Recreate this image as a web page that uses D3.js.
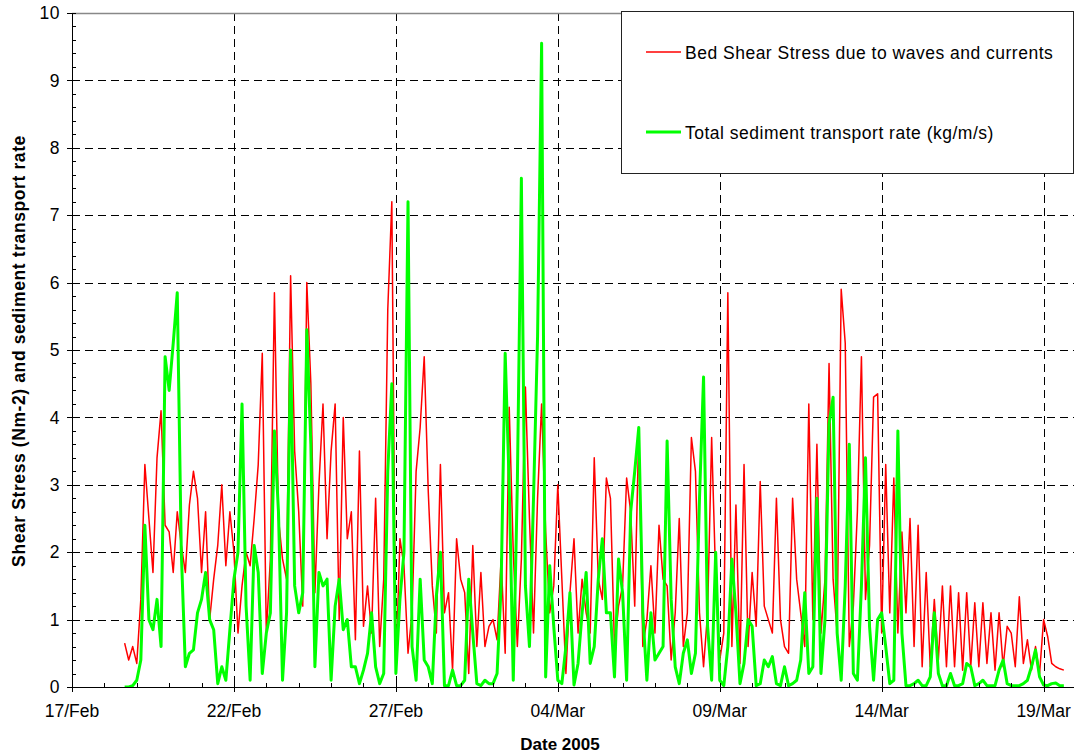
<!DOCTYPE html>
<meta charset="utf-8">
<head>
<script src="https://d3js.org/d3.v7.min.js"></script>
<style>
  body { margin: 0; background: #fff; }
  text { font-family: "Liberation Sans", Arial, Helvetica, sans-serif; fill: #000; }
</style>
</head>
<body>
<svg id="chart" width="1074" height="755"></svg>

<script>
// readings every 3 hours, first one on 18/Feb 15:00 (one row per day)
var startTime = Date.UTC(2005, 1, 18, 15);
var stepHours = 3;

var shearStress = [
  0.65, 0.4, 0.6,
  0.35, 1.3, 3.3, 2.5, 1.7, 3.4, 4.1, 2.4,
  2.3, 1.7, 2.6, 2.1, 1.7, 2.7, 3.2, 2.8,
  1.7, 2.6, 1.0, 1.6, 2.1, 3.0, 1.8, 2.6,
  2.0, 0.8, 1.5, 2.0, 1.8, 2.5, 3.3, 4.95,
  0.8, 1.9, 5.85, 2.5, 1.9, 1.6, 6.1, 3.5,
  2.6, 1.2, 6.0, 4.5, 1.4, 3.0, 4.2, 2.2,
  3.5, 4.2, 1.0, 4.0, 2.2, 2.6, 0.7, 3.5,
  0.9, 1.5, 0.8, 2.8, 0.6, 1.6, 5.6, 7.2,
  0.2, 2.2, 1.8, 0.5, 1.1, 3.2, 3.85, 4.9,
  2.9, 1.5, 0.8, 3.3, 1.1, 1.4, 0.25, 2.2,
  1.6, 1.4, 0.2, 2.1, 0.6, 1.7, 0.6, 0.9,
  1.0, 0.7, 1.9, 0.5, 4.15, 2.0, 0.6, 1.9,
  4.45, 2.5, 0.8, 2.8, 4.2, 2.3, 1.1, 1.5,
  3.0, 1.6, 0.2, 1.4, 2.2, 0.8, 1.6, 1.1,
  0.8, 3.4, 1.6, 1.3, 3.1, 2.8, 0.6, 1.2,
  1.5, 3.1, 2.6, 1.2, 3.8, 0.6, 1.0, 1.8,
  0.8, 2.4, 1.6, 1.5, 0.4, 1.1, 2.5, 0.6,
  1.1, 3.7, 3.2, 1.1, 0.3, 1.1, 3.7, 1.6,
  0.4, 0.8, 5.85, 0.6, 2.7, 0.35, 3.3, 0.6,
  1.7, 0.9, 3.05, 1.2, 1.0, 0.8, 2.8, 1.0,
  0.6, 0.5, 2.8, 1.6, 1.1, 0.6, 4.2, 1.0,
  3.6, 0.8, 1.6, 4.8, 1.6, 0.8, 5.9, 5.1,
  0.6, 1.2, 2.6, 4.9, 1.3, 2.1, 4.3, 4.35,
  0.8, 3.3, 1.1, 3.1, 0.8, 2.3, 1.1, 2.5,
  0.6, 2.4, 0.3, 1.7, 0.3, 1.3, 0.4, 1.5,
  0.3, 1.5, 0.3, 1.4, 0.25, 1.4, 0.3, 1.25,
  0.3, 1.25, 0.35, 1.1, 0.25, 1.1, 0.3, 0.9,
  0.8, 0.3, 1.34, 0.35, 0.7, 0.25, 0.6, 0.2,
  1.0, 0.75, 0.35, 0.3, 0.27, 0.25
];

var transportRate = [
  0, 0, 0.02,
  0.1, 0.4, 2.4, 1.0, 0.85, 1.3, 0.6, 4.9,
  4.4, 5.1, 5.85, 2.0, 0.3, 0.5, 0.55, 1.1,
  1.3, 1.7, 1.0, 0.85, 0.05, 0.3, 0.1, 0.85,
  1.6, 2.0, 4.2, 1.2, 0.1, 2.1, 1.7, 0.2,
  0.8, 1.1, 3.8, 2.6, 0.1, 1.1, 5.0, 1.5,
  1.1, 1.4, 5.3, 3.6, 0.3, 1.7, 1.5, 1.6,
  0.1, 1.2, 1.6, 0.85, 1.0, 0.3, 0.3, 0.05,
  0.25, 0.5, 1.1, 0.3, 0.05, 0.2, 3.2, 4.5,
  0.2, 1.3, 2.0, 7.2, 0.6, 0.1, 1.6, 0.4,
  0.3, 0.05, 1.35, 2.0, 0.02, 0.02, 0.25, 0.02,
  0.02, 0.1, 1.6, 0.8, 0.05, 0.02, 0.1, 0.05,
  0.05, 0.2, 1.5, 4.95, 3.0, 0.1, 3.0, 7.55,
  1.5, 0.6, 2.8, 5.2, 9.55, 0.15, 1.8, 0.9,
  0.1, 0.05, 0.6, 1.4, 0.03, 0.35, 1.1, 1.7,
  0.35, 0.6, 1.6, 2.2, 1.1, 1.1, 0.15, 1.9,
  1.4, 0.1, 2.6, 3.2, 3.85, 1.1, 0.1, 1.1,
  0.4, 0.5, 0.6, 3.65, 1.3, 0.3, 0.05, 0.5,
  0.7, 0.2, 0.5, 2.8, 4.6, 0.9, 0.1, 2.0,
  0.1, 0.02, 0.6, 1.9, 1.1, 0.05, 0.35, 1.0,
  0.9, 0.02, 0.05, 0.4, 0.3, 0.45, 0.05, 0.02,
  0.3, 0.02, 0.05, 0.1, 0.4, 1.4, 0.2, 0.3,
  2.8, 0.2, 1.0, 3.9, 4.3, 0.8, 0.1, 1.5,
  3.6, 0.2, 0.1, 1.5, 3.4, 0.9, 0.1, 1.0,
  1.1, 0.6, 0.05, 0.1, 3.8, 0.8, 0.02, 0.02,
  0.05, 0.1, 0.02, 0.02, 0.15, 1.1, 0.2, 0.02,
  0.02, 0.2, 0.02, 0.02, 0.05, 0.35, 0.3, 0.02,
  0.05, 0.1, 0.02, 0.02, 0.02, 0.25, 0.4, 0.05,
  0.02, 0.02, 0.02, 0.05, 0.1, 0.3, 0.55, 0.15,
  0.03, 0.02, 0.05, 0.06, 0.02, 0.02
];

var xTickLabels = ["17/Feb", "22/Feb", "27/Feb", "04/Mar", "09/Mar", "14/Mar", "19/Mar"];
var yTicks = [0, 1, 2, 3, 4, 5, 6, 7, 8, 9, 10];
var seriesNames = ["Bed Shear Stress due to waves and currents", "Total sediment transport rate (kg/m/s)"];

var svg = d3.select("#chart");
var plotLeft = 72, plotRight = 1076, plotTop = 13, plotBottom = 687, edge = 1074;

var t0 = new Date(Date.UTC(2005, 1, 17));
var x = d3.scaleUtc()
  .domain([t0, d3.utcDay.offset(t0, 31)])
  .range([plotLeft, plotRight]);
var y = d3.scaleLinear().domain([0, 10]).range([plotBottom, plotTop]);

function toPoints(values) {
  return values.map(function (v, i) {
    return { t: new Date(startTime + i * stepHours * 3600000), v: v };
  });
}
function px(v) { return Math.round(v) + 0.5; }

var majorDates = xTickLabels.map(function (d, i) { return d3.utcDay.offset(t0, 5 * i); });

// grid
var grid = svg.append("g").attr("stroke", "#000").attr("stroke-width", 1)
  .attr("stroke-dasharray", "8,5").attr("shape-rendering", "crispEdges");
grid.selectAll(".hg").data(yTicks.filter(function (d) { return d > 0 && d < 10; }))
  .enter().append("line")
    .attr("x1", plotLeft).attr("x2", edge)
    .attr("y1", function (d) { return px(y(d)); })
    .attr("y2", function (d) { return px(y(d)); });
grid.selectAll(".vg").data(majorDates.slice(1))
  .enter().append("line")
    .attr("y1", plotTop).attr("y2", plotBottom)
    .attr("x1", function (d) { return px(x(d)); })
    .attr("x2", function (d) { return px(x(d)); });

// plot frame top
svg.append("line").attr("x1", plotLeft).attr("x2", edge).attr("y1", plotTop + 0.5).attr("y2", plotTop + 0.5)
  .attr("stroke", "#888").attr("stroke-width", 1.5);

// clip
svg.append("clipPath").attr("id", "clip").append("rect")
  .attr("x", plotLeft).attr("y", plotTop).attr("width", edge - plotLeft).attr("height", plotBottom - plotTop);

var line = d3.line()
  .x(function (d) { return x(d.t); })
  .y(function (d) { return y(d.v); });

var plot = svg.append("g").attr("clip-path", "url(#clip)");
plot.append("path").datum(toPoints(shearStress))
  .attr("fill", "none").attr("stroke", "#ff0000").attr("stroke-width", 1.5)
  .attr("stroke-linejoin", "round").attr("d", line);
plot.append("path").datum(toPoints(transportRate))
  .attr("fill", "none").attr("stroke", "#00ff00").attr("stroke-width", 3)
  .attr("stroke-linejoin", "round").attr("d", line);

// y axis
var yAxis = svg.append("g").attr("transform", "translate(" + plotLeft + ",0)");
yAxis.append("line").attr("x1", 0.5).attr("x2", 0.5).attr("y1", plotTop).attr("y2", plotBottom).attr("stroke", "#000");
yAxis.selectAll(".minor").data(d3.range(0, 50))
  .enter().append("line")
    .attr("x1", 0).attr("x2", 4)
    .attr("y1", function (d) { return px(y(d / 5)); })
    .attr("y2", function (d) { return px(y(d / 5)); })
    .attr("stroke", "#000");
yAxis.selectAll(".major").data(yTicks)
  .enter().append("line")
    .attr("x1", -5).attr("x2", 4)
    .attr("y1", function (d) { return px(y(d)); })
    .attr("y2", function (d) { return px(y(d)); })
    .attr("stroke", "#000");
yAxis.selectAll("text").data(yTicks)
  .enter().append("text")
    .attr("x", -12).attr("y", function (d) { return y(d); })
    .attr("dy", "0.35em").attr("text-anchor", "end")
    .style("font-size", "17.5px").style("letter-spacing", "0.5px")
    .text(function (d) { return d; });

// x axis
var xAxis = svg.append("g");
xAxis.append("line").attr("x1", plotLeft).attr("x2", edge)
  .attr("y1", plotBottom + 0.5).attr("y2", plotBottom + 0.5).attr("stroke", "#000");
xAxis.selectAll(".minor").data(d3.range(0, 31))
  .enter().append("line")
    .attr("x1", function (d) { return px(x(d3.utcDay.offset(t0, d))); })
    .attr("x2", function (d) { return px(x(d3.utcDay.offset(t0, d))); })
    .attr("y1", plotBottom - 4).attr("y2", plotBottom)
    .attr("stroke", "#000");
xAxis.selectAll(".major").data(majorDates)
  .enter().append("line")
    .attr("x1", function (d) { return px(x(d)); })
    .attr("x2", function (d) { return px(x(d)); })
    .attr("y1", plotBottom - 4).attr("y2", plotBottom + 5)
    .attr("stroke", "#000");
xAxis.selectAll("text").data(majorDates)
  .enter().append("text")
    .attr("x", function (d) { return x(d); }).attr("y", 717)
    .attr("text-anchor", "middle").style("font-size", "17.5px")
    .text(function (d, i) { return xTickLabels[i]; });

// axis titles
svg.append("text").attr("x", 560).attr("y", 750).attr("text-anchor", "middle")
  .style("font-size", "17px").style("font-weight", "bold").text("Date 2005");
svg.append("text").attr("transform", "translate(25,351) rotate(-90)")
  .attr("text-anchor", "middle").style("font-size", "17.5px").style("font-weight", "bold")
  .style("letter-spacing", "0.6px")
  .text("Shear Stress (Nm-2) and sediment transport rate");

// legend
var legend = svg.append("g");
legend.append("rect").attr("x", 621.5).attr("y", 11.5).attr("width", 452).attr("height", 162)
  .attr("fill", "#fff").attr("stroke", "#222");
var legendColors = ["#ff0000", "#00ff00"];
var legendWidths = [1.5, 3];
var legendY = [52, 132];
seriesNames.forEach(function (name, i) {
  legend.append("line").attr("x1", 646).attr("x2", 681)
    .attr("y1", legendY[i]).attr("y2", legendY[i])
    .attr("stroke", legendColors[i]).attr("stroke-width", legendWidths[i]);
  legend.append("text").attr("x", 685).attr("y", legendY[i] + 7)
    .style("font-size", "17.5px").style("letter-spacing", "0.5px").text(name);
});
</script>
</body>
